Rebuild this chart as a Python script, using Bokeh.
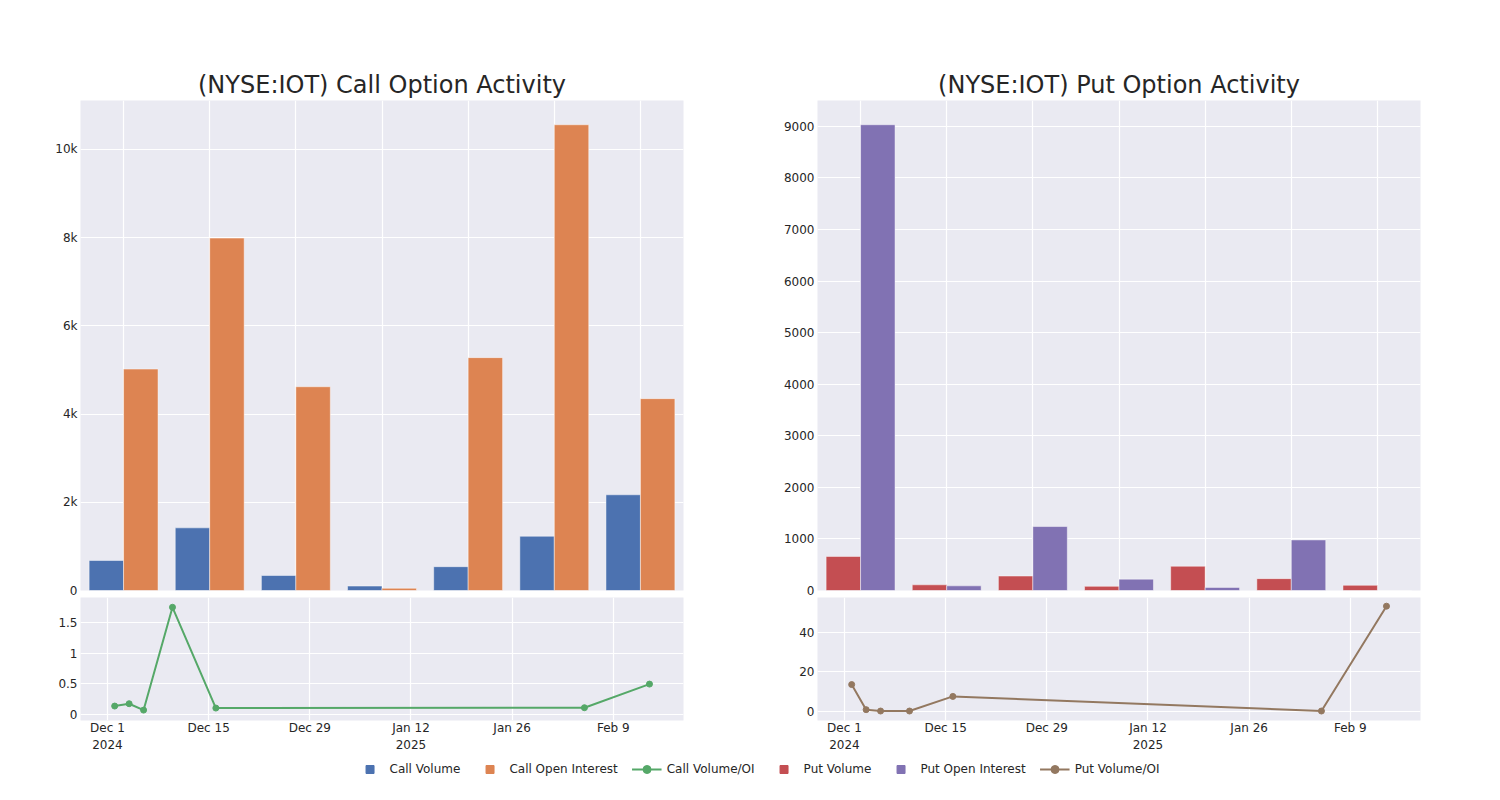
import numpy as np
import pandas as pd
from bokeh.plotting import figure
from bokeh.models import (Range1d, FactorRange, FixedTicker, NumeralTickFormatter,
                          CustomJSTickFormatter, Legend, LegendItem, ColumnDataSource)
from bokeh.layouts import row, column
from bokeh.transform import dodge
from bokeh.embed import file_html
from bokeh.resources import INLINE

# ---------------- data ----------------
groups = ["2024-12-02", "2024-12-04", "2024-12-06", "2024-12-10",
          "2024-12-16", "2025-02-05", "2025-02-14"]
call_volume = [680, 1420, 340, 100, 540, 1230, 2170]
call_oi = [5020, 7990, 4620, 50, 5280, 10560, 4350]
put_volume = [660, 110, 280, 80, 470, 230, 100]
put_oi = [9030, 90, 1240, 220, 60, 980, 0]

ratio_dates = ["2024-12-02", "2024-12-04", "2024-12-06", "2024-12-10",
               "2024-12-16", "2025-02-05", "2025-02-14"]
call_ratio = [0.136, 0.174, 0.07, 1.75, 0.103, 0.109, 0.495]
put_ratio = [13.6, 0.9, 0.2, 0.2, 7.6, 0.2, 53.3]

tick_dates = ["2024-12-01", "2024-12-15", "2024-12-29", "2025-01-12", "2025-01-26", "2025-02-09"]
tick_labels = ["Dec 1\n2024", "Dec 15", "Dec 29", "Jan 12\n2025", "Jan 26", "Feb 9"]
date_window = ["2024-11-27 06:30", "2025-02-18 17:00"]

call_bar_ticks = [0, 2000, 4000, 6000, 8000, 10000]
put_bar_ticks = [0, 1000, 2000, 3000, 4000, 5000, 6000, 7000, 8000, 9000]
call_ratio_ticks = [0, 0.5, 1, 1.5]
put_ratio_ticks = [0, 20, 40]

# ---------------- style ----------------
BG = "#EAEAF2"
TXT = "#262626"
FONT = "DejaVu Sans"
C_BLUE, C_ORANGE, C_GREEN = "#4C72B0", "#DD8452", "#55A868"
C_RED, C_PURPLE, C_BROWN = "#C44E52", "#8172B3", "#937860"

FW, FH_TOP, FH_BOT = 603, 490, 123


def to_ms(d):
    return float(pd.Timestamp(d).value // 10**6)


tick_ms = [to_ms(d) for d in tick_dates]
ratio_ms = [to_ms(d) for d in ratio_dates]


def style_common(p):
    p.background_fill_color = BG
    p.border_fill_color = "white"
    p.outline_line_color = None
    p.grid.grid_line_color = "white"
    p.grid.grid_line_width = 1.2
    for ax in p.axis:
        ax.axis_line_color = None
        ax.major_tick_line_color = None
        ax.minor_tick_line_color = None
        ax.major_tick_out = 0
        ax.major_tick_in = 0
        ax.major_label_text_font = FONT
        ax.major_label_text_font_size = "12px"
        ax.major_label_text_color = TXT
    p.yaxis.major_label_standoff = 3


def bar_fig(title, a_vals, b_vals, a_col, b_col, ymax, yticks, fmt, bl, br):
    src = ColumnDataSource(dict(g=groups, a=a_vals, b=b_vals))
    p = figure(x_range=FactorRange(*groups), y_range=Range1d(0, ymax),
               frame_width=FW, frame_height=FH_TOP, toolbar_location=None,
               output_backend="svg", min_border_left=bl, min_border_right=br,
               min_border_top=100, min_border_bottom=7)
    p.vbar(x=dodge("g", -0.2, range=p.x_range), top="a", width=0.4, source=src,
           fill_color=a_col, line_color="white", line_alpha=0.45, line_width=1)
    p.vbar(x=dodge("g", 0.2, range=p.x_range), top="b", width=0.4, source=src,
           fill_color=b_col, line_color="white", line_alpha=0.45, line_width=1)
    p.title.text = title
    p.title.align = "center"
    p.title.text_font = FONT
    p.title.text_font_size = "24px"
    p.title.text_font_style = "normal"
    p.title.text_color = TXT
    p.title.standoff = 3
    style_common(p)
    p.xaxis.visible = False
    p.yaxis.ticker = FixedTicker(ticks=yticks)
    p.yaxis.formatter = fmt
    return p


def line_fig(vals, col, ylo, yhi, yticks, bl, br):
    p = figure(x_axis_type="datetime",
               x_range=Range1d(to_ms(date_window[0]), to_ms(date_window[1])),
               y_range=Range1d(ylo, yhi), frame_width=FW, frame_height=FH_BOT,
               toolbar_location=None, output_backend="svg",
               min_border_left=bl, min_border_right=br, min_border_top=0,
               min_border_bottom=32)
    src = ColumnDataSource(dict(x=ratio_ms, y=vals))
    p.line("x", "y", source=src, line_color=col, line_width=2)
    p.scatter("x", "y", source=src, size=6, color=col)
    style_common(p)
    p.xaxis.ticker = FixedTicker(ticks=tick_ms)
    p.xaxis.formatter = CustomJSTickFormatter(
        args=dict(tvals=tick_ms, tlabs=tick_labels),
        code="const i = tvals.indexOf(tick); return i >= 0 ? tlabs[i] : '';")
    p.xaxis.major_label_standoff = 0
    p.xaxis.major_label_text_line_height = 1.25
    p.yaxis.ticker = FixedTicker(ticks=yticks)
    p.yaxis.formatter = NumeralTickFormatter(format="0.[0]")
    return p


p1 = bar_fig("(NYSE:IOT) Call Option Activity", call_volume, call_oi, C_BLUE, C_ORANGE,
             11110, call_bar_ticks, NumeralTickFormatter(format="0a"), 80, 62)
p2 = line_fig(call_ratio, C_GREEN, -0.1, 1.91, call_ratio_ticks, 80, 62)
p3 = bar_fig("(NYSE:IOT) Put Option Activity", put_volume, put_oi, C_RED, C_PURPLE,
             9500, put_bar_ticks, NumeralTickFormatter(format="0"), 72, 64)
p4 = line_fig(put_ratio, C_BROWN, -4.6, 57.7, put_ratio_ticks, 72, 64)

# ---------------- legend ----------------
lf = figure(width=1490, height=28, toolbar_location=None, output_backend="svg",
            x_range=Range1d(0, 1), y_range=Range1d(0, 1), min_border=0,
            min_border_left=24)
lf.axis.visible = False
lf.grid.visible = False
lf.outline_line_color = None
nan = np.array([np.nan])
r_cv = lf.scatter(nan, nan, marker="square", size=12, color=C_BLUE)
r_co = lf.scatter(nan, nan, marker="square", size=12, color=C_ORANGE)
r_cl = lf.line(nan, nan, line_color=C_GREEN, line_width=2)
r_cs = lf.scatter(nan, nan, size=6, color=C_GREEN)
r_pv = lf.scatter(nan, nan, marker="square", size=12, color=C_RED)
r_po = lf.scatter(nan, nan, marker="square", size=12, color=C_PURPLE)
r_pl = lf.line(nan, nan, line_color=C_BROWN, line_width=2)
r_ps = lf.scatter(nan, nan, size=6, color=C_BROWN)
legend = Legend(items=[
    LegendItem(label="Call Volume", renderers=[r_cv]),
    LegendItem(label="Call Open Interest", renderers=[r_co]),
    LegendItem(label="Call Volume/OI", renderers=[r_cl, r_cs]),
    LegendItem(label="Put Volume", renderers=[r_pv]),
    LegendItem(label="Put Open Interest", renderers=[r_po]),
    LegendItem(label="Put Volume/OI", renderers=[r_pl, r_ps]),
], orientation="horizontal", location="center", glyph_width=30, glyph_height=20,
    label_standoff=5, spacing=14, padding=0, margin=0,
    label_text_font=FONT, label_text_font_size="12px", label_text_color=TXT,
    background_fill_alpha=0, border_line_color=None)
lf.add_layout(legend, "center")

layout = column(row(column(p1, p2), column(p3, p4)), lf)

open("out.html", "w").write(file_html(layout, INLINE))
